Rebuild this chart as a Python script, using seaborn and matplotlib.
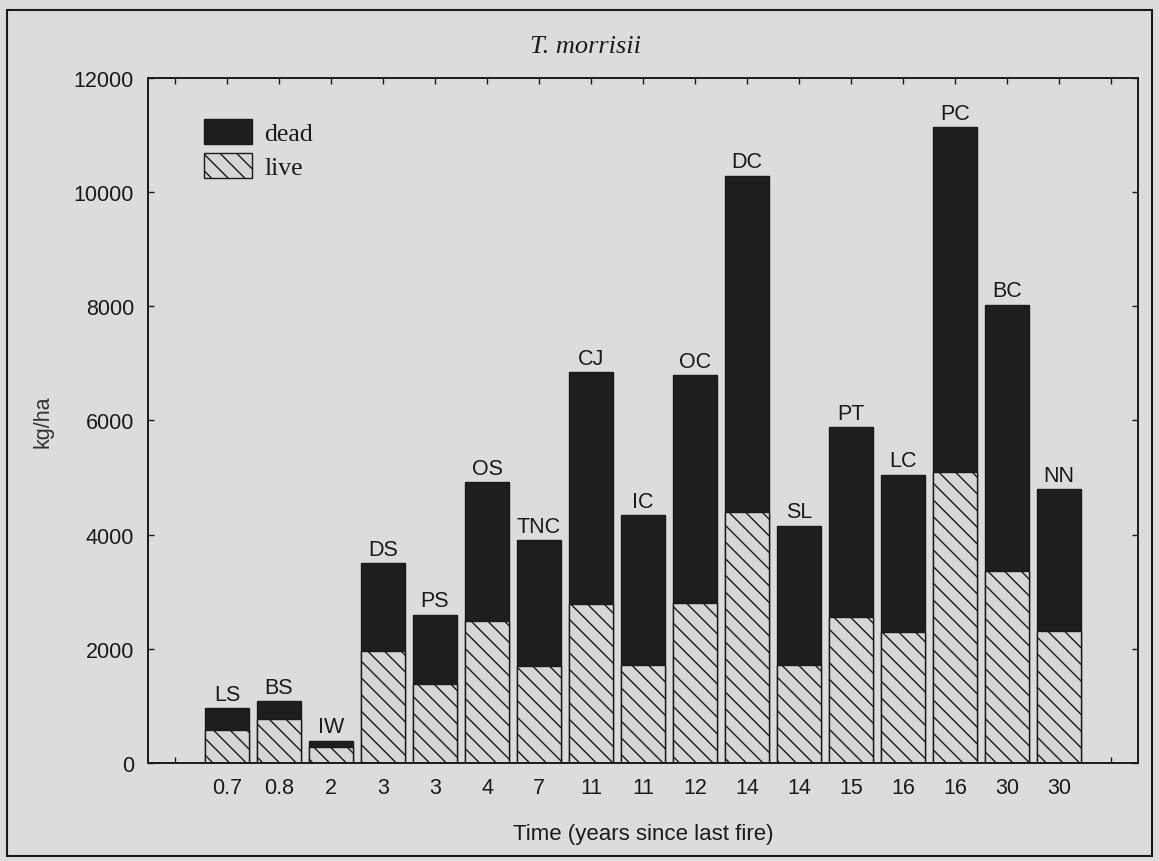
import numpy as np
import pandas as pd
import matplotlib
matplotlib.use("Agg")
import matplotlib.pyplot as plt
import seaborn as sns
from matplotlib.patches import Patch, Rectangle

# Fuel load per site (kg/ha), split into live and dead material
sites = ["LS", "BS", "IW", "DS", "PS", "OS", "TNC", "CJ", "IC",
         "OC", "DC", "SL", "PT", "LC", "PC", "BC", "NN"]
years = ["0.7", "0.8", "2", "3", "3", "4", "7", "11", "11",
         "12", "14", "14", "15", "16", "16", "30", "30"]
live = [570, 770, 280, 1960, 1380, 2480, 1700, 2780, 1720,
        2800, 4390, 1710, 2550, 2290, 5100, 3360, 2320]
dead = [390, 310, 110, 1540, 1220, 2440, 2200, 4070, 2620,
        3990, 5900, 2450, 3330, 2760, 6040, 4670, 2480]
y_ticks = [0, 2000, 4000, 6000, 8000, 10000, 12000]

BG = "#dcdcdc"
INK = "#1a1a1a"
DEAD = "#1e1e1e"
LIVE = "#d6d6d6"
HATCH = "\\\\"

sns.set_style("ticks")
plt.rcParams["font.family"] = ["Liberation Sans", "DejaVu Sans"]
plt.rcParams["hatch.linewidth"] = 1.0
plt.rcParams["hatch.color"] = INK
plt.rcParams["text.color"] = INK

df = pd.DataFrame({"site": sites, "years": years, "live": live, "dead": dead})
df["pos"] = np.arange(1, len(df) + 1)
df["total"] = df["live"] + df["dead"]

fig = plt.figure(figsize=(11.59, 8.62), dpi=100, facecolor=BG)
ax = fig.add_axes([0.1277, 0.1137, 0.8542, 0.7947])
ax.set_facecolor(BG)

# full stack (dead on top) first, then the live part drawn over its lower portion
sns.barplot(data=df, x="pos", y="total", native_scale=True, width=0.83,
            color=DEAD, saturation=1, edgecolor=INK, linewidth=1.0,
            errorbar=None, ax=ax)
sns.barplot(data=df, x="pos", y="live", native_scale=True, width=0.83,
            color=LIVE, saturation=1, edgecolor=INK, linewidth=1.0,
            hatch=HATCH, errorbar=None, ax=ax)

for p, t, s in zip(df["pos"], df["total"], df["site"]):
    ax.annotate(s, (p, t), xytext=(0, 6), textcoords="offset points",
                ha="center", va="baseline", fontsize=15.5, color=INK)

ax.set_xlim(-0.52, len(df) + 1.52)
ax.set_ylim(0, 12000)
ax.set_xticks(np.arange(0, len(df) + 2))
ax.set_xticklabels([""] + years + [""])
ax.set_yticks(y_ticks)
ax.set_yticklabels([str(v) for v in y_ticks])

ax.tick_params(direction="in", top=True, right=True, length=4, width=1.0,
               pad=10, labelsize=15.5, color=INK, labelcolor=INK)
for sp in ax.spines.values():
    sp.set_linewidth(1.4)
    sp.set_color(INK)

ax.set_xlabel("Time (years since last fire)", fontsize=16, color=INK)
ax.xaxis.set_label_coords(0.5, -0.088)
ax.xaxis.label.set_va("top")
ax.set_ylabel("kg/ha", fontsize=15.5, color="#333333")
ax.yaxis.set_label_coords(-0.095, 0.5)

fig.text(0.505, 0.945, "T. morrisii", family=["Liberation Serif"],
         style="italic", fontsize=19, ha="center", va="center", color=INK)

handles = [Patch(facecolor=DEAD, edgecolor=INK, linewidth=1.0, label="dead"),
           Patch(facecolor=LIVE, edgecolor=INK, linewidth=1.0, hatch=HATCH,
                 label="live")]
ax.legend(handles=handles, loc="upper left", bbox_to_anchor=(0.057, 0.94),
          frameon=False, borderpad=0, borderaxespad=0, handlelength=1.87,
          handleheight=1.13, labelspacing=0.3, handletextpad=0.47,
          prop={"family": "Liberation Serif", "size": 18.5})

fig.patches.append(Rectangle((7 / 1159, 1 - 857 / 862), 1145 / 1159,
                             846 / 862, transform=fig.transFigure,
                             fill=False, edgecolor=INK, linewidth=1.5))

fig.savefig("out.png", dpi=100, facecolor=BG)
